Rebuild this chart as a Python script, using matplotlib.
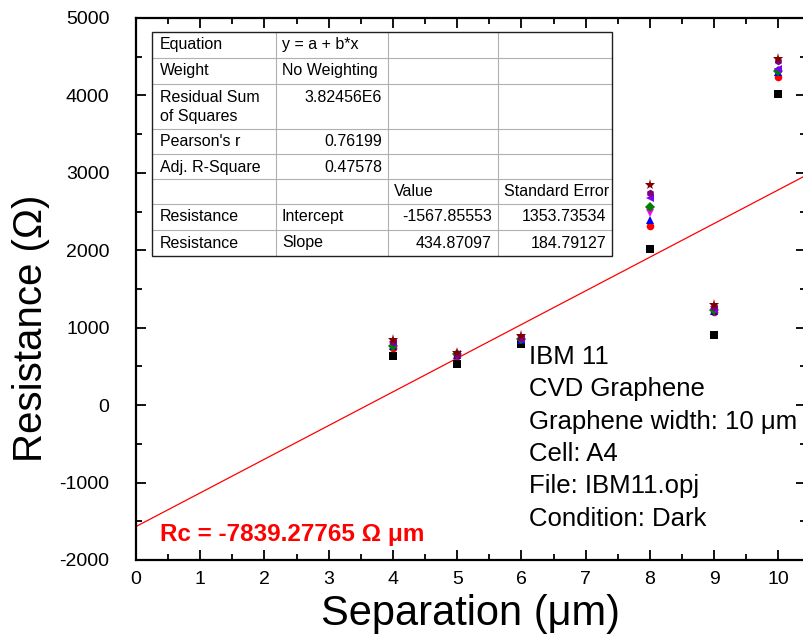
import matplotlib
matplotlib.use("Agg")
import matplotlib.pyplot as plt
from matplotlib.lines import Line2D
from matplotlib.ticker import MultipleLocator
import numpy as np

plt.rcParams['font.family'] = ['Liberation Sans', 'DejaVu Sans']
plt.rcParams['axes.unicode_minus'] = False

# ---- data ----
separation = [4, 5, 6, 8, 9, 10]
s_black   = [630, 535, 790, 2020, 910, 4020]
s_red     = [735, 640, 850, 2315, 1200, 4235]
s_blue    = [765, 650, 845, 2390, 1210, 4300]
s_magenta = [780, 645, 855, 2480, 1225, 4305]
s_green   = [765, 655, 860, 2560, 1230, 4310]
s_violet  = [800, 660, 860, 2675, 1245, 4335]
s_purple  = [815, 665, 870, 2740, 1270, 4440]
s_wine    = [845, 670, 890, 2840, 1290, 4470]

fit_intercept = -1567.85553
fit_slope = 434.87097

table_rows = [
    ["Equation", "y = a + b*x", "", ""],
    ["Weight", "No Weighting", "", ""],
    ["Residual Sum\nof Squares", "3.82456E6", "", ""],
    ["Pearson's r", "0.76199", "", ""],
    ["Adj. R-Square", "0.47578", "", ""],
    ["", "", "Value", "Standard Error"],
    ["Resistance", "Intercept", "-1567.85553", "1353.73534"],
    ["Resistance", "Slope", "434.87097", "184.79127"],
]
info_lines = ["IBM 11", "CVD Graphene", "Graphene width: 10 \u03bcm",
              "Cell: A4", "File: IBM11.opj", "Condition: Dark"]
rc_text = "Rc = -7839.27765 \u03a9 \u03bcm"

series = [
    (s_black, 's', 'black'),
    (s_red, 'o', 'red'),
    (s_blue, '^', 'blue'),
    (s_magenta, 'v', 'magenta'),
    (s_green, 'D', '#008000'),
    (s_violet, '<', '#8000FF'),
    (s_purple, 'h', '#800080'),
    (s_wine, '*', '#800000'),
]

W, H = 804, 644
fig = plt.figure(figsize=(W / 100, H / 100), dpi=100)

def fx(px):
    return px / W

def fy(py):
    return 1 - py / H

ax = fig.add_axes([fx(136), fy(560), fx(806) - fx(136), fy(18) - fy(560)])
ax.set_xlim(0, 10.43)
ax.set_ylim(-2000, 5000)

xs = np.array(ax.get_xlim())
ax.plot(xs, fit_intercept + fit_slope * xs, color='red', lw=0.9, zorder=2)

for vals, m, c in series:
    ms = 8 if m == '*' else 5.5
    ax.plot(separation, vals, linestyle='none', marker=m, color=c,
            markersize=ms, markeredgewidth=0, zorder=3)

ax.xaxis.set_major_locator(MultipleLocator(1))
ax.xaxis.set_minor_locator(MultipleLocator(0.5))
ax.yaxis.set_major_locator(MultipleLocator(1000))
ax.yaxis.set_minor_locator(MultipleLocator(500))
ax.tick_params(which='both', direction='in', top=True, right=True, width=1.3)
ax.tick_params(which='major', length=7, labelsize=14)
ax.tick_params(axis='x', which='major', pad=8)
ax.tick_params(axis='y', which='major', pad=19)
ax.tick_params(which='minor', length=4)
for sp in ax.spines.values():
    sp.set_linewidth(1.6)

ax.set_xlabel("Separation (\u03bcm)", fontsize=30)
ax.set_ylabel("Resistance (\u03a9)", fontsize=29)
ax.xaxis.set_label_coords(0.5, -0.062)
ax.yaxis.set_label_coords(-0.128, 0.428)

# info text
for i, t in enumerate(info_lines):
    fig.text(fx(529), fy(357 + 32.3 * i), t, fontsize=18.5, va='center', ha='left')

fig.text(fx(160), fy(534), rc_text, fontsize=17.5, fontweight='bold',
         color='red', va='center', ha='left')

# ---- table ----
col_x = [152, 276, 388, 498, 612]
row_y = [32, 58, 84, 129, 154, 179, 204, 230, 256]
bg = plt.Rectangle((fx(col_x[0]), fy(row_y[-1])), fx(col_x[-1]) - fx(col_x[0]),
                   fy(row_y[0]) - fy(row_y[-1]), transform=fig.transFigure,
                   facecolor='white', edgecolor='none', zorder=5)
fig.add_artist(bg)
for yv in row_y[1:-1]:
    fig.add_artist(Line2D([fx(col_x[0]), fx(col_x[-1])], [fy(yv), fy(yv)],
                          color='#b0b0b0', lw=0.8, zorder=6))
for xv in col_x[1:-1]:
    fig.add_artist(Line2D([fx(xv), fx(xv)], [fy(row_y[0]), fy(row_y[-1])],
                          color='#b0b0b0', lw=0.8, zorder=6))
fig.add_artist(plt.Rectangle((fx(col_x[0]), fy(row_y[-1])), fx(col_x[-1]) - fx(col_x[0]),
                             fy(row_y[0]) - fy(row_y[-1]), transform=fig.transFigure,
                             facecolor='none', edgecolor='#202020', lw=1.0, zorder=7))

def is_number(s):
    try:
        float(s)
        return True
    except ValueError:
        return False

for r, row in enumerate(table_rows):
    top = row_y[r]
    for c, txt in enumerate(row):
        if not txt:
            continue
        if is_number(txt):
            x = col_x[c + 1] - 6
            ha = 'right'
        else:
            x = col_x[c] + 8 if c == 0 else col_x[c] + 6
            ha = 'left'
        lines = txt.split("\n")
        for k, ln in enumerate(lines):
            fig.text(fx(x), fy(top + 13 + 19 * k), ln, fontsize=11.5,
                     ha=ha, va='center', zorder=8)

fig.savefig("out.png", dpi=100)
